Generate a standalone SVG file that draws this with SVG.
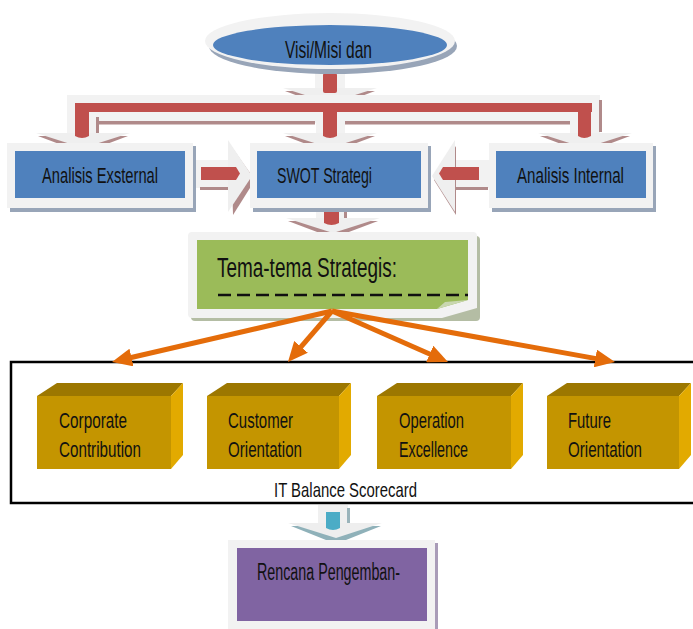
<svg xmlns="http://www.w3.org/2000/svg" width="693" height="629" viewBox="0 0 693 629">
  <style>
    .t { font-family: "Liberation Sans Narrow", "Liberation Sans", "DejaVu Sans Condensed", sans-serif; fill: #111; }
    .rim { fill: #f2f2f2; }
    .sh-blue { fill: #98a5b8; }
    .blue { fill: #4f81bd; }
    .red { fill: #c0504d; }
    .mauve { fill: #b08a8a; }
    .head { fill: #efefef; }
    .front { fill: #c49500; }
    .top { fill: #9c7700; }
    .side { fill: #e2aa00; }
    .orange { stroke: #e46c0a; stroke-width: 5; fill: none; }
  </style>
  <defs>
    <marker id="oh" markerUnits="userSpaceOnUse" markerWidth="20" markerHeight="18" refX="8" refY="9" orient="auto">
      <path d="M0,0 L20,9 L0,18 Z" fill="#e46c0a"/>
    </marker>
    <!-- down-pointing chevron head used by the block arrows -->
    <g id="chev">
      <polygon points="-45,3 45,3 0,20" class="mauve"/>
      <polygon points="-47,0 47,0 0,15" class="head"/>
    </g>
  </defs>

  <rect width="693" height="629" fill="#ffffff"/>

  <!-- block connectors -->
  <g id="connectors">
    <!-- ellipse down to distribution bar -->
    <rect x="315" y="68" width="30" height="28" class="rim"/>
    <use href="#chev" x="330" y="88"/>
    <rect x="323" y="73" width="14" height="20" rx="2" class="red"/>

    <!-- distribution bar with three stems -->
    <rect x="67" y="95" width="533" height="28" class="rim"/>
    <rect x="67" y="95" width="30" height="40" class="rim"/>
    <rect x="316" y="95" width="29" height="40" class="rim"/>
    <rect x="570" y="95" width="30" height="40" class="rim"/>
    <rect x="97" y="121" width="218" height="3.5" class="mauve"/>
    <rect x="345" y="121" width="225" height="3.5" class="mauve"/>
    <rect x="96" y="117" width="3" height="16" class="mauve"/>
    <rect x="599" y="100" width="3" height="32" class="mauve"/>
    <use href="#chev" x="83" y="133"/>
    <use href="#chev" x="330" y="133"/>
    <use href="#chev" x="585" y="133"/>
    <rect x="75" y="103" width="517" height="9" class="red"/>
    <path d="M75,112 H89 V136 Q82,140 75,136 Z" class="red"/>
    <path d="M323,112 H337 V136 Q330,140 323,136 Z" class="red"/>
    <path d="M578,112 H591 V136 Q584,140 578,136 Z" class="red"/>

    <!-- Analisis Exsternal -> SWOT -->
    <rect x="193" y="160" width="40" height="28" class="rim"/>
    <rect x="200" y="187" width="32" height="3" class="mauve"/>
    <polygon points="231,146 255,180 233,215" class="mauve"/>
    <polygon points="228,140 252,176 228,212" class="head"/>
    <path d="M201,167 H236 L240,173.5 L236,180 H201 Z" class="red"/>

    <!-- Analisis Internal -> SWOT -->
    <rect x="447" y="160" width="42" height="28" class="rim"/>
    <rect x="455" y="187" width="33" height="3" class="mauve"/>
    <polygon points="456,146 434,180 456,215" class="mauve"/>
    <polygon points="455,140 432,176 455,212" class="head"/>
    <path d="M479,167 H443 L439,173.5 L443,180 H479 Z" class="red"/>

    <!-- SWOT -> Tema-tema -->
    <rect x="316" y="200" width="31" height="26" class="rim"/>
    <rect x="344" y="205" width="3" height="18" class="mauve"/>
    <use href="#chev" x="333" y="218"/>
    <path d="M324,207 H339 V223 Q331.5,227 324,223 Z" class="red"/>

    <!-- scorecard -> plan -->
    <rect x="318" y="505" width="30" height="24" fill="#f0f0f0"/>
    <rect x="347" y="508" width="3" height="17" fill="#9ab4bb"/>
    <polygon points="291,526 381,526 336,544" fill="#8fb1b9"/>
    <polygon points="288,523 382,523 336,538" fill="#eeeeee"/>
    <path d="M326,512 H340 V528 Q333,532 326,528 Z" fill="#4bacc6"/>
  </g>

  <!-- Visi/Misi -->
  <g id="visi">
    <ellipse cx="333" cy="46" rx="124" ry="28" class="sh-blue"/>
    <ellipse cx="330" cy="41" rx="125" ry="28" class="rim"/>
    <ellipse cx="330" cy="45" rx="117" ry="20" class="blue"/>
    <text x="285" y="58" class="t" font-size="24" textLength="87" lengthAdjust="spacingAndGlyphs">Visi/Misi dan</text>
  </g>

  <!-- Analisis Exsternal -->
  <g id="ext">
    <rect x="10" y="146" width="186" height="66" class="sh-blue"/>
    <rect x="7" y="143" width="186" height="65" class="rim"/>
    <rect x="15" y="151" width="170" height="47" class="blue"/>
    <text x="42" y="183" class="t" font-size="22" textLength="116" lengthAdjust="spacingAndGlyphs">Analisis Exsternal</text>
  </g>

  <!-- SWOT Strategi -->
  <g id="swot">
    <rect x="253" y="146" width="178" height="66" class="sh-blue"/>
    <rect x="250" y="143" width="178" height="65" class="rim"/>
    <rect x="257" y="151" width="164" height="47" class="blue"/>
    <text x="277" y="183" class="t" font-size="22" textLength="95" lengthAdjust="spacingAndGlyphs">SWOT Strategi</text>
  </g>

  <!-- Analisis Internal -->
  <g id="int">
    <rect x="492" y="146" width="164" height="66" class="sh-blue"/>
    <rect x="489" y="143" width="164" height="65" class="rim"/>
    <rect x="496" y="151" width="150" height="47" class="blue"/>
    <text x="517" y="183" class="t" font-size="22" textLength="107" lengthAdjust="spacingAndGlyphs">Analisis Internal</text>
  </g>

  <!-- Tema-tema Strategis -->
  <g id="tema">
    <rect x="191" y="236" width="289" height="85" rx="4" fill="#b4bda4"/>
    <path d="M192,232 H473 Q477,232 477,236 V308 L442,318 H192 Q188,318 188,314 V236 Q188,232 192,232 Z" class="rim"/>
    <polygon points="197,240 468,240 468,300 437,309 197,309" fill="#9bbb59"/>
    <polygon points="437,309 468,300 445,302" fill="#c9d7b0"/>
    <text x="217" y="277" class="t" font-size="27" textLength="180" lengthAdjust="spacingAndGlyphs">Tema-tema Strategis:</text>
    <line x1="218" y1="295" x2="468" y2="295" stroke="#111" stroke-width="2.5" stroke-dasharray="13 6"/>
  </g>

  <!-- IT Balance Scorecard frame -->
  <g id="scorecard">
    <rect x="11" y="362" width="700" height="141" fill="none" stroke="#000" stroke-width="2.5"/>
    <text x="274" y="497" class="t" font-size="21" textLength="143" lengthAdjust="spacingAndGlyphs">IT Balance Scorecard</text>
  </g>

  <!-- perspective cubes -->
  <g id="p1">
    <polygon points="37,396 57,383 183,383 171,396" class="top"/>
    <polygon points="171,396 183,383 183,455 171,469" class="side"/>
    <rect x="37" y="396" width="134" height="73" class="front"/>
    <text x="59" y="428" class="t" font-size="22" textLength="68" lengthAdjust="spacingAndGlyphs">Corporate</text>
    <text x="59" y="457" class="t" font-size="22" textLength="82" lengthAdjust="spacingAndGlyphs">Contribution</text>
  </g>
  <g id="p2">
    <polygon points="207,396 227,383 351,383 339,396" class="top"/>
    <polygon points="339,396 351,383 351,455 339,469" class="side"/>
    <rect x="207" y="396" width="132" height="73" class="front"/>
    <text x="228" y="428" class="t" font-size="22" textLength="65" lengthAdjust="spacingAndGlyphs">Customer</text>
    <text x="228" y="457" class="t" font-size="22" textLength="74" lengthAdjust="spacingAndGlyphs">Orientation</text>
  </g>
  <g id="p3">
    <polygon points="377,396 397,383 523,383 511,396" class="top"/>
    <polygon points="511,396 523,383 523,455 511,469" class="side"/>
    <rect x="377" y="396" width="134" height="73" class="front"/>
    <text x="399" y="428" class="t" font-size="22" textLength="65" lengthAdjust="spacingAndGlyphs">Operation</text>
    <text x="399" y="457" class="t" font-size="22" textLength="69" lengthAdjust="spacingAndGlyphs">Excellence</text>
  </g>
  <g id="p4">
    <polygon points="547,396 567,383 691,383 679,396" class="top"/>
    <polygon points="679,396 691,383 691,455 679,469" class="side"/>
    <rect x="547" y="396" width="132" height="73" class="front"/>
    <text x="568" y="428" class="t" font-size="22" textLength="43" lengthAdjust="spacingAndGlyphs">Future</text>
    <text x="568" y="457" class="t" font-size="22" textLength="74" lengthAdjust="spacingAndGlyphs">Orientation</text>
  </g>

  <!-- Rencana Pengembangan -->
  <g id="rencana">
    <rect x="231" y="543" width="207" height="90" fill="#a99cb8"/>
    <rect x="228" y="540" width="207" height="89" class="rim"/>
    <rect x="237" y="548" width="190" height="73" fill="#8064a2"/>
    <text x="257" y="580" class="t" font-size="23" textLength="143" lengthAdjust="spacingAndGlyphs">Rencana Pengemban-</text>
  </g>

  <!-- fan-out arrows from the themes box to the four perspectives -->
  <g id="fan-connectors">
    <path d="M332,311 L123.7,359.3" class="orange" marker-end="url(#oh)"/>
    <path d="M332,311 L295.8,352.9" class="orange" marker-end="url(#oh)"/>
    <path d="M332,311 L437,357.2" class="orange" marker-end="url(#oh)"/>
    <path d="M332,311 L603.2,359.9" class="orange" marker-end="url(#oh)"/>
  </g>
</svg>
